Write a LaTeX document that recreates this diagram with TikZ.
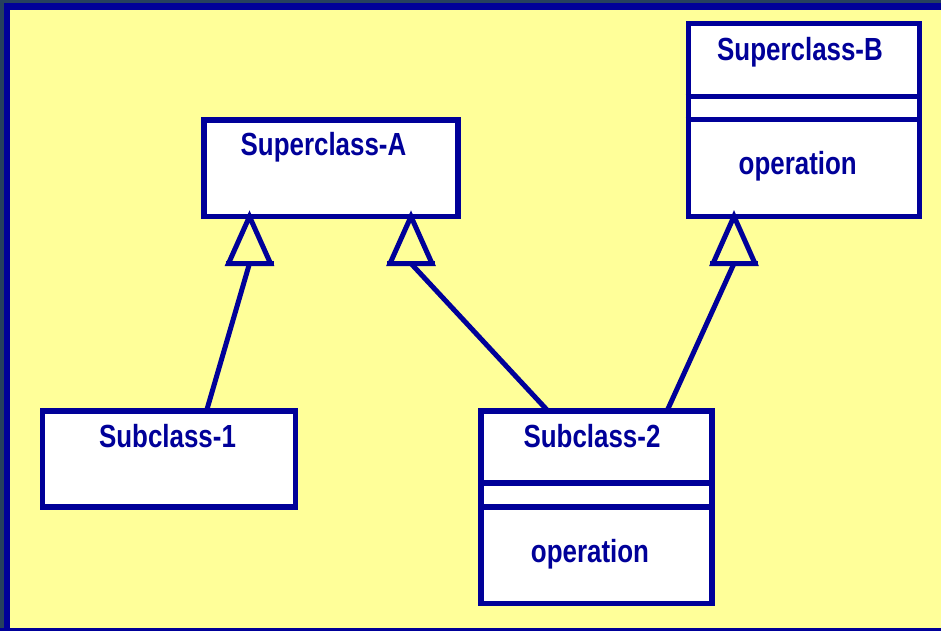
\documentclass[tikz,border=0pt]{standalone}
\usepackage{fontspec}
\setmainfont{Liberation Sans}
\usetikzlibrary{calc}
\definecolor{umlblue}{HTML}{000099}
\definecolor{bgyellow}{HTML}{FFFF99}
\definecolor{edgedark}{HTML}{26405E}
\newcommand{\narrowtxt}[1]{\scalebox{0.81}[1]{#1}}
\begin{document}
\begin{tikzpicture}[x=1pt,y=-1pt,
  classbox/.style={draw=umlblue,fill=white,line width=5.3pt,inner sep=0pt,rectangle},
  lbl/.style={anchor=base,inner sep=0pt,text=umlblue,font=\fontsize{32}{36}\selectfont\bfseries},
  sepline/.style={draw=umlblue,line width=5.3pt},
  gentri/.style={draw=umlblue,line width=5pt,fill=bgyellow,line join=miter},
  conn/.style={draw=umlblue,line width=5pt}]
\useasboundingbox (0,0) rectangle (941,631);
% background and frame
\fill[bgyellow] (0,0) rectangle (941,631);
\fill[edgedark] (0,0) rectangle (941,3.5);
\fill[edgedark] (0,0) rectangle (4.3,631);
\fill[umlblue] (4.3,3.5) rectangle (941,9.8);
\fill[umlblue] (4.3,3.5) rectangle (10,631);
\fill[umlblue] (0,627.8) rectangle (941,631);
% class boxes
\node[classbox,minimum width=254pt,minimum height=96.5pt] (supA) at (331,168.25) {};
\node[classbox,minimum width=231.2pt,minimum height=193pt] (supB) at (803.9,119.8) {};
\node[classbox,minimum width=253pt,minimum height=96pt] (sub1) at (169,459) {};
\node[classbox,minimum width=231pt,minimum height=192.5pt] (sub2) at (596.5,507.25) {};
% compartment separators
\draw[sepline] (supB.west |- 0,96.3) -- (supB.east |- 0,96.3);
\draw[sepline] (supB.west |- 0,119.7) -- (supB.east |- 0,119.7);
\draw[sepline] (sub2.west |- 0,483) -- (sub2.east |- 0,483);
\draw[sepline] (sub2.west |- 0,507) -- (sub2.east |- 0,507);
% labels
\node[lbl] (tA) at (323.5,155.5) {\narrowtxt{Superclass-A}};
\node[lbl] (tB) at (800,61) {\narrowtxt{Superclass-B}};
\node[lbl] (tBop) at (797.7,175) {\narrowtxt{operation}};
\node[lbl] (t1) at (167.5,447.5) {\narrowtxt{Subclass-1}};
\node[lbl] (t2) at (592,447.5) {\narrowtxt{Subclass-2}};
\node[lbl] (t2op) at (590,562.3) {\narrowtxt{operation}};
% generalization triangles (apex on superclass bottom edge)
\coordinate (apexA1) at (249.5,216.5);
\coordinate (apexA2) at (411,216.5);
\coordinate (apexB) at (734,216.3);
\coordinate (baseA1) at (249.5,263.5);
\coordinate (baseA2) at (411,263.5);
\coordinate (baseB) at (734,263.5);
% connectors
\coordinate (in1) at (206.5,411);
\coordinate (in2a) at (548,411);
\coordinate (in2b) at (667,411);
\draw[conn] (in1) -- (baseA1);
\draw[conn] (in2a) -- (baseA2);
\draw[conn] (in2b) -- (baseB);
\foreach \a/\b in {apexA1/baseA1,apexA2/baseA2,apexB/baseB}{
  \draw[gentri] (\a) -- ($(\b)+(-21,0)$) -- ($(\b)+(21,0)$) -- cycle;
  \draw[umlblue,line width=5pt] ($(\b)+(-24,0)$) -- ($(\b)+(24,0)$);
}
\end{tikzpicture}
\end{document}
